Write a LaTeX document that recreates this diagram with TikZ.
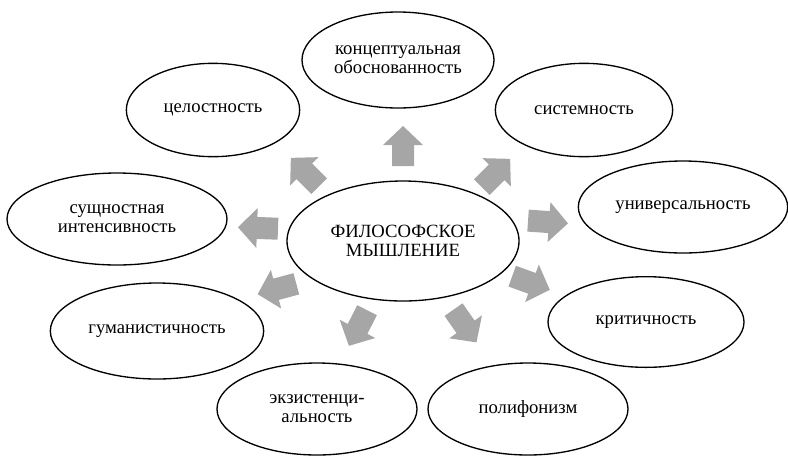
\documentclass[tikz,border=0pt]{standalone}
\usepackage{fontspec}
\setmainfont{Liberation Serif}
\usetikzlibrary{shapes.geometric}
\definecolor{arrgray}{HTML}{A6A6A6}
\tikzset{
  oval/.style={ellipse,draw,line width=1pt,inner sep=0pt,align=center,
    font=\fontsize{14}{14.5}\selectfont},
  blk/.style={fill=arrgray,draw=none}
}
\begin{document}
\begin{tikzpicture}[x=.75pt,y=-.75pt,line join=round]
\useasboundingbox (0,0) rectangle (788,455);
% centre
\node[oval,minimum width=174pt,minimum height=90pt] (fm) at (403,241) {ФИЛОСОФСКОЕ\\МЫШЛЕНИЕ};
% ring
\node[oval,minimum width=144pt,minimum height=72pt] (konc) at (398,60) {концептуальная\\обоснованность};
\node[oval,minimum width=130pt,minimum height=70pt] (cel) at (213,110) {целостность};
\node[oval,minimum width=133pt,minimum height=70pt] (sist) at (584,110) {системность};
\node[oval,minimum width=165pt,minimum height=69pt] (sush) at (117,219) {сущностная\\интенсивность};
\node[oval,minimum width=157pt,minimum height=69pt] (univ) at (683,207) {универсальность};
\node[oval,minimum width=160pt,minimum height=72pt] (gum) at (157,331) {гуманистичность};
\node[oval,minimum width=147pt,minimum height=68pt] (krit) at (646,322) {критичность};
\node[oval,minimum width=150pt,minimum height=69pt] (ekz) at (317,409) {экзистенци-\\альность};
\node[oval,minimum width=150pt,minimum height=69pt] (poli) at (528,409) {полифонизм};
% block arrows
\foreach \x/\y/\r in {403/146/90, 496/173/45, 305/172/135, 258/228/178,
  277/289/195, 358/328/243, 465/326/305, 531/283/340, 548/222/356}
  \fill[blk,shift={(\x,\y)},rotate=\r]
    (-20,-11)--(1,-11)--(1,-20)--(20,0)--(1,20)--(1,11)--(-20,11)--cycle;
\end{tikzpicture}
\end{document}
